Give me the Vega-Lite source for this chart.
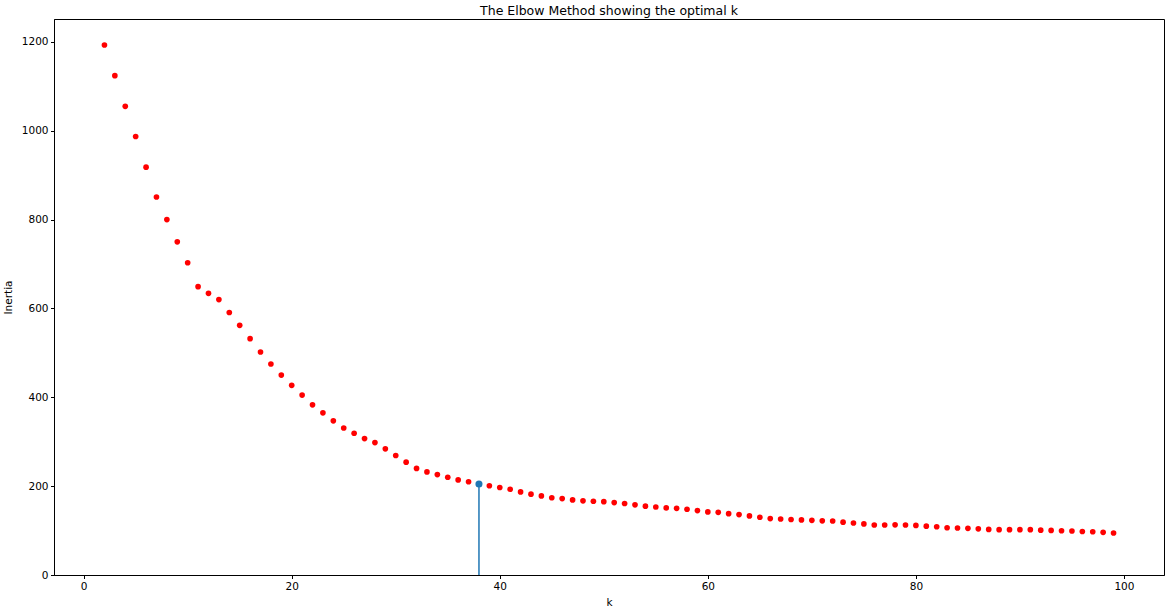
{
  "$schema": "https://vega.github.io/schema/vega-lite/v6.json",
  "width": 1110,
  "height": 556,
  "autosize": {"type": "none"},
  "padding": {"left": 54, "top": 19, "right": 6, "bottom": 36},
  "background": "white",
  "title": {
    "text": "The Elbow Method showing the optimal k",
    "font": "DejaVu Sans",
    "fontSize": 12.5,
    "fontWeight": "normal",
    "color": "black",
    "anchor": "middle",
    "frame": "group",
    "baseline": "alphabetic",
    "offset": 4,
    "dy": 12
  },
  "config": {
    "view": {"stroke": "black", "strokeWidth": 1},
    "axis": {
      "grid": false,
      "domainColor": "black",
      "domainWidth": 1,
      "tickColor": "black",
      "tickWidth": 1,
      "tickSize": 3.5,
      "labelPadding": 2.5,
      "labelFont": "DejaVu Sans",
      "labelFontSize": 10.5,
      "labelColor": "black",
      "titleFont": "DejaVu Sans",
      "titleFontSize": 10.5,
      "titleFontWeight": "normal",
      "titleColor": "black"
    }
  },
  "datasets": {
    "inertia": [
      {"k": 2, "inertia": 1193}, {"k": 3, "inertia": 1124}, {"k": 4, "inertia": 1055}, {"k": 5, "inertia": 987},
      {"k": 6, "inertia": 918}, {"k": 7, "inertia": 851}, {"k": 8, "inertia": 800}, {"k": 9, "inertia": 750},
      {"k": 10, "inertia": 703}, {"k": 11, "inertia": 649}, {"k": 12, "inertia": 634}, {"k": 13, "inertia": 620},
      {"k": 14, "inertia": 591}, {"k": 15, "inertia": 562}, {"k": 16, "inertia": 532}, {"k": 17, "inertia": 502},
      {"k": 18, "inertia": 475}, {"k": 19, "inertia": 450}, {"k": 20, "inertia": 427}, {"k": 21, "inertia": 405},
      {"k": 22, "inertia": 383}, {"k": 23, "inertia": 365}, {"k": 24, "inertia": 347}, {"k": 25, "inertia": 331},
      {"k": 26, "inertia": 319}, {"k": 27, "inertia": 307}, {"k": 28, "inertia": 298}, {"k": 29, "inertia": 284},
      {"k": 30, "inertia": 269}, {"k": 31, "inertia": 254}, {"k": 32, "inertia": 240}, {"k": 33, "inertia": 232},
      {"k": 34, "inertia": 226}, {"k": 35, "inertia": 220}, {"k": 36, "inertia": 214}, {"k": 37, "inertia": 210},
      {"k": 38, "inertia": 205}, {"k": 39, "inertia": 201}, {"k": 40, "inertia": 197}, {"k": 41, "inertia": 193},
      {"k": 42, "inertia": 187}, {"k": 43, "inertia": 182}, {"k": 44, "inertia": 178}, {"k": 45, "inertia": 174},
      {"k": 46, "inertia": 172}, {"k": 47, "inertia": 169}, {"k": 48, "inertia": 167}, {"k": 49, "inertia": 166},
      {"k": 50, "inertia": 165}, {"k": 51, "inertia": 163}, {"k": 52, "inertia": 161}, {"k": 53, "inertia": 158},
      {"k": 54, "inertia": 155}, {"k": 55, "inertia": 153}, {"k": 56, "inertia": 151}, {"k": 57, "inertia": 150},
      {"k": 58, "inertia": 148}, {"k": 59, "inertia": 145}, {"k": 60, "inertia": 142}, {"k": 61, "inertia": 141},
      {"k": 62, "inertia": 138}, {"k": 63, "inertia": 136}, {"k": 64, "inertia": 133}, {"k": 65, "inertia": 130},
      {"k": 66, "inertia": 127}, {"k": 67, "inertia": 126}, {"k": 68, "inertia": 125}, {"k": 69, "inertia": 124},
      {"k": 70, "inertia": 123}, {"k": 71, "inertia": 122}, {"k": 72, "inertia": 121.5}, {"k": 73, "inertia": 119},
      {"k": 74, "inertia": 117}, {"k": 75, "inertia": 115}, {"k": 76, "inertia": 112.5}, {"k": 77, "inertia": 112.5},
      {"k": 78, "inertia": 113}, {"k": 79, "inertia": 112.5}, {"k": 80, "inertia": 111.7}, {"k": 81, "inertia": 110},
      {"k": 82, "inertia": 108.7}, {"k": 83, "inertia": 106.4}, {"k": 84, "inertia": 105.7}, {"k": 85, "inertia": 105},
      {"k": 86, "inertia": 104}, {"k": 87, "inertia": 102.6}, {"k": 88, "inertia": 102}, {"k": 89, "inertia": 102},
      {"k": 90, "inertia": 102}, {"k": 91, "inertia": 102}, {"k": 92, "inertia": 101}, {"k": 93, "inertia": 100.4},
      {"k": 94, "inertia": 99.7}, {"k": 95, "inertia": 99}, {"k": 96, "inertia": 98}, {"k": 97, "inertia": 97.4},
      {"k": 98, "inertia": 96}, {"k": 99, "inertia": 94.5}
    ],
    "optimal": [{"k": 38, "inertia": 205}]
  },
  "layer": [
    {
      "data": {"name": "inertia"},
      "mark": {"type": "point", "filled": true, "shape": "circle", "color": "#ff0000", "size": 32, "opacity": 1},
      "encoding": {
        "x": {
          "field": "k", "type": "quantitative",
          "scale": {"domain": [-2.85, 103.85], "nice": false, "zero": false},
          "axis": {"values": [0, 20, 40, 60, 80, 100], "format": "d", "title": "k", "titleBaseline": "middle", "titleY": 27}
        },
        "y": {
          "field": "inertia", "type": "quantitative",
          "scale": {"domain": [0, 1251.6], "nice": false, "zero": false},
          "axis": {"values": [0, 200, 400, 600, 800, 1000, 1200], "format": "d", "title": "Inertia", "titleBaseline": "middle", "titleX": -46, "titleY": 278}
        }
      }
    },
    {
      "data": {"name": "optimal"},
      "mark": {"type": "rule", "color": "#1f77b4", "strokeWidth": 1.5},
      "encoding": {
        "x": {"field": "k", "type": "quantitative"},
        "y": {"field": "inertia", "type": "quantitative"},
        "y2": {"datum": 0}
      }
    },
    {
      "data": {"name": "optimal"},
      "mark": {"type": "point", "filled": true, "shape": "circle", "color": "#1f77b4", "size": 50, "opacity": 1},
      "encoding": {
        "x": {"field": "k", "type": "quantitative"},
        "y": {"field": "inertia", "type": "quantitative"}
      }
    }
  ]
}
